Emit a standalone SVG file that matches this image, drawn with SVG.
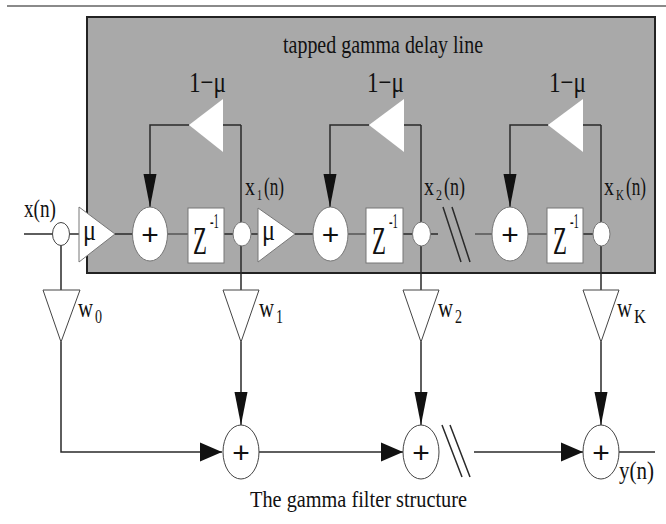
<svg xmlns="http://www.w3.org/2000/svg" width="666" height="524" viewBox="0 0 666 524">
<style>
text{font-family:"Liberation Serif","Times New Roman",serif;fill:#111}
.ln{fill:none;stroke:#2a2a2a;stroke-width:1.5}
.gl{fill:none;stroke:#6a6a6a;stroke-width:2}
.wt{fill:#fff;stroke:#777;stroke-width:1}
.wb{fill:#fff;stroke:#444;stroke-width:1}
.plus{font-family:"Liberation Sans",Arial,sans-serif;font-size:30px;text-anchor:middle}
.lbl{font-size:25px}
.sub{font-size:15px}
.one{font-size:30px}
.w{font-size:27px}
.ws{font-size:19px}
.mu{font-size:30px}
.z{font-size:40px}
.zs{font-size:21px}
</style>
<defs>
<marker id="av" markerUnits="userSpaceOnUse" markerWidth="34" markerHeight="14" viewBox="0 -7 34 14" refX="33" refY="0" orient="auto"><path d="M0,-6.5 L33,0 L0,6.5 Z" fill="#111"/></marker>
<marker id="ah" markerUnits="userSpaceOnUse" markerWidth="23" markerHeight="20" viewBox="0 -10 23 20" refX="22" refY="0" orient="auto"><path d="M0,-9.5 L22,0 L0,9.5 Z" fill="#111"/></marker>
</defs>
<line x1="7" y1="6" x2="666" y2="6" stroke="#8a8a8a" stroke-width="2"/>
<g id="delay-line-box">
<rect x="87" y="17" width="568" height="256" fill="#a9a9a9" stroke="#222" stroke-width="2"/>
<text x="283" y="53" font-size="26" textLength="200" lengthAdjust="spacingAndGlyphs">tapped gamma delay line</text>
</g>
<g id="connectors">
<path class="ln" d="M24,234 H53 M70,234 H79 M115,234 H132 M224,234 H233 M251,234 H258 M295,234 H313 M403,234 H412 M431,234 H438 M583,234 H593"/>
<path class="gl" d="M168,234 H188 M348,234 H366 M475,234 H492 M528,234 H547"/>
<path class="ln" stroke-width="1" d="M443,207 L461,262 M452,207 L470,262"/>
<path class="ln" d="M61,245 V290 M241,125 V290 M421,125 V290 M601,125 V290"/>
<path class="ln" d="M241,125 H223 M189,125 H150 V207" marker-end="url(#av)"/>
<path class="ln" d="M421,125 H404 M369,125 H330 V207" marker-end="url(#av)"/>
<path class="ln" d="M601,125 H583 M548,125 H510 V207" marker-end="url(#av)"/>
<path class="ln" d="M61,342 V452 H222" marker-end="url(#ah)"/>
<path class="ln" d="M241,342 V425" marker-end="url(#av)"/>
<path class="ln" d="M421,342 V425" marker-end="url(#av)"/>
<path class="ln" d="M601,342 V425" marker-end="url(#av)"/>
<path class="ln" d="M259,452 H403" marker-end="url(#ah)"/>
<path class="ln" d="M474,452 H583" marker-end="url(#ah)"/>
<path class="ln" d="M619,452 H655"/>
<path class="ln" stroke-width="1" d="M442,425 L462,477 M450,425 L470,477"/>
</g>
<g id="input">
<ellipse cx="61" cy="234" rx="8.5" ry="11.5" class="wb"/>
<text class="lbl" x="24" y="217" textLength="32" lengthAdjust="spacingAndGlyphs">x(n)</text>
</g>
<g id="mu-gain-1">
<polygon points="79,207 79,262 115,234" class="wt"/>
<text class="mu" x="83" y="240" textLength="13" lengthAdjust="spacingAndGlyphs">μ</text>
</g>
<g id="sum-1">
<ellipse cx="150" cy="234" rx="17.5" ry="27" class="wt"/>
<text class="plus" x="150" y="245">+</text>
</g>
<g id="delay-1">
<rect x="188" y="208" width="36" height="55" class="wt"/>
<text class="z" transform="matrix(0.57,0,0,1,193,254)">Z</text>
<text class="zs" transform="matrix(0.51,0,0,1,210,228)">-1</text>
</g>
<g id="tap-1">
<ellipse cx="242" cy="234" rx="9" ry="12" class="wt"/>
<text class="lbl" transform="matrix(0.8,0,0,1,245,195)">x</text>
<text class="sub" transform="matrix(0.67,0,0,1,257,200)">1</text>
<text class="lbl" transform="matrix(0.69,0,0,1,264,195)">(n)</text>
</g>
<g id="feedback-1">
<polygon points="223,99 223,152 189,125" fill="#fff"/>
<text class="one" x="189" y="92" textLength="37" lengthAdjust="spacingAndGlyphs">1−μ</text>
</g>
<g id="mu-gain-2">
<polygon points="258,208 258,262 295,234" class="wt"/>
<text class="mu" x="262" y="240" textLength="13" lengthAdjust="spacingAndGlyphs">μ</text>
</g>
<g id="sum-2">
<ellipse cx="330.5" cy="234" rx="17.5" ry="27" class="wt"/>
<text class="plus" x="330.5" y="245">+</text>
</g>
<g id="delay-2">
<rect x="366" y="208" width="37" height="55" class="wt"/>
<text class="z" transform="matrix(0.57,0,0,1,372,254)">Z</text>
<text class="zs" transform="matrix(0.51,0,0,1,389,228)">-1</text>
</g>
<g id="tap-2">
<ellipse cx="421.5" cy="234" rx="9" ry="12" class="wt"/>
<text class="lbl" transform="matrix(0.8,0,0,1,424,195)">x</text>
<text class="sub" transform="matrix(0.8,0,0,1,436,200)">2</text>
<text class="lbl" transform="matrix(0.72,0,0,1,444,195)">(n)</text>
</g>
<g id="feedback-2">
<polygon points="404,99 404,152 369,125" fill="#fff"/>
<text class="one" x="367" y="92" textLength="37" lengthAdjust="spacingAndGlyphs">1−μ</text>
</g>
<g id="sum-3">
<ellipse cx="510" cy="234" rx="18" ry="27" class="wt"/>
<text class="plus" x="510" y="245">+</text>
</g>
<g id="delay-K">
<rect x="547" y="208" width="36" height="55" class="wt"/>
<text class="z" transform="matrix(0.57,0,0,1,553,254)">Z</text>
<text class="zs" transform="matrix(0.51,0,0,1,570,228)">-1</text>
</g>
<g id="tap-K">
<ellipse cx="601.5" cy="234" rx="8.5" ry="12" class="wt"/>
<text class="lbl" transform="matrix(0.8,0,0,1,604,195)">x</text>
<text class="sub" transform="matrix(0.74,0,0,1,616,200)">K</text>
<text class="lbl" transform="matrix(0.69,0,0,1,626,195)">(n)</text>
</g>
<g id="feedback-K">
<polygon points="583,99 583,152 548,125" fill="#fff"/>
<text class="one" x="549" y="92" textLength="37" lengthAdjust="spacingAndGlyphs">1−μ</text>
</g>
<g id="weight-0">
<polygon points="43,290 80,290 61,342" class="wb"/>
<text class="w" transform="matrix(0.77,0,0,1,78,317)">w</text>
<text class="ws" transform="matrix(0.74,0,0,1,95,323)">0</text>
</g>
<g id="weight-1">
<polygon points="223,290 259,290 241,342" class="wb"/>
<text class="w" transform="matrix(0.77,0,0,1,259,317)">w</text>
<text class="ws" transform="matrix(0.74,0,0,1,276,323)">1</text>
</g>
<g id="weight-2">
<polygon points="403,290 439,290 421,342" class="wb"/>
<text class="w" transform="matrix(0.77,0,0,1,438,317)">w</text>
<text class="ws" transform="matrix(0.74,0,0,1,455,323)">2</text>
</g>
<g id="weight-K">
<polygon points="583,290 619,290 601,342" class="wb"/>
<text class="w" transform="matrix(0.77,0,0,1,617,317)">w</text>
<text class="ws" transform="matrix(0.88,0,0,1,634,323)">K</text>
</g>
<g id="out-sum-1">
<ellipse cx="241" cy="452" rx="18" ry="27" class="wb"/>
<text class="plus" x="241" y="463">+</text>
</g>
<g id="out-sum-2">
<ellipse cx="421" cy="452" rx="18" ry="27" class="wb"/>
<text class="plus" x="421" y="463">+</text>
</g>
<g id="out-sum-K">
<ellipse cx="601" cy="452" rx="18" ry="27" class="wb"/>
<text class="plus" x="601" y="463">+</text>
<text class="lbl" x="619" y="479" textLength="35" lengthAdjust="spacingAndGlyphs">y(n)</text>
</g>
<text x="250" y="507" font-size="24" textLength="217" lengthAdjust="spacingAndGlyphs">The gamma filter structure</text>
</svg>
